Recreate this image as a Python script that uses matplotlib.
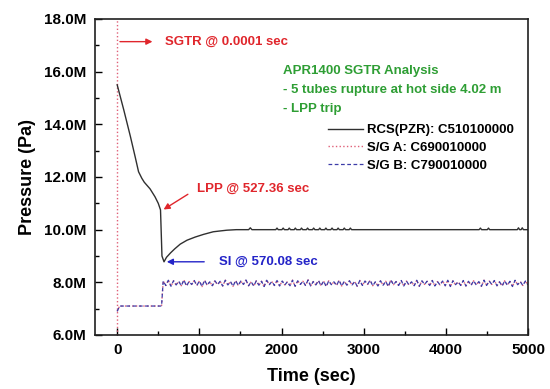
import numpy as np
import matplotlib
matplotlib.use("Agg")
import matplotlib.pyplot as plt
from matplotlib.ticker import FuncFormatter, MultipleLocator

plt.rcParams['font.family'] = ['Liberation Sans', 'DejaVu Sans']
plt.rcParams['font.weight'] = 'bold'

# RCS (PZR) pressure, MPa
rcs_t = [0, 80, 160, 220, 260, 300, 330, 400, 460, 500, 527.36, 545, 570.08,
         600, 650, 700, 767, 850, 950, 1050, 1169, 1250, 1336, 1450, 1600,
         1620, 1640, 1930, 1945, 1960, 2005, 2020, 2035, 2080, 2094, 2110,
         2155, 2168, 2183, 2230, 2243, 2258, 2303, 2317, 2332, 2377, 2391,
         2406, 2452, 2466, 2481, 2526, 2540, 2555, 2600, 2615, 2630, 2675,
         2689, 2704, 2750, 2764, 2779, 2824, 2838, 2853, 4405, 4421, 4435,
         4505, 4519, 4533, 4870, 4884, 4898, 4916, 4930, 4944, 5000]
rcs_p = [15.5, 14.55, 13.55, 12.75, 12.2, 11.95, 11.8, 11.55, 11.25, 11.0,
         10.75, 9.0, 8.78,
         8.95, 9.12, 9.27, 9.45, 9.6, 9.72, 9.82, 9.92, 9.95, 9.98, 10.0, 10.0,
         10.07, 10.0, 10.0, 10.06, 10.0, 10.0, 10.06, 10.0, 10.0, 10.06, 10.0,
         10.0, 10.06, 10.0, 10.0, 10.06, 10.0, 10.0, 10.06, 10.0, 10.0, 10.06,
         10.0, 10.0, 10.06, 10.0, 10.0, 10.06, 10.0, 10.0, 10.06, 10.0, 10.0,
         10.06, 10.0, 10.0, 10.06, 10.0, 10.0, 10.06, 10.0, 10.0, 10.06, 10.0,
         10.0, 10.06, 10.0, 10.0, 10.07, 10.0, 10.0, 10.07, 10.0, 10.0]

# S/G secondary pressure, MPa: start-up part, then the oscillating band after SI
sg_start_t = [0, 30, 540]
sg_start_p = [6.9, 7.1, 7.1]
sg_band_p = [
    8.05, 7.88, 8.08, 7.85, 8.06, 7.90, 8.04, 7.87, 8.09, 7.86, 8.03, 7.92,
    8.07, 7.88, 8.05, 7.84, 8.08, 7.89, 8.02, 7.87, 8.06, 7.91, 8.04, 7.86,
    8.08, 7.90, 8.03, 7.85, 8.07, 7.88, 8.05, 7.92, 8.09, 7.87, 8.02, 7.86,
    8.06, 7.89, 8.04, 7.84, 8.08, 7.91, 8.03, 7.88, 8.07, 7.86, 8.05, 7.90,
    8.02, 7.87, 8.08, 7.85, 8.06, 7.92, 8.04, 7.88, 8.09, 7.86, 8.03, 7.90,
    8.07, 7.87, 8.05, 7.84, 8.06, 7.91, 8.02, 7.88, 8.08, 7.86, 8.04, 7.89,
    8.06, 7.90, 8.03, 7.85, 8.07, 7.88, 8.05, 7.92, 8.08, 7.87, 8.02, 7.86,
    8.06, 7.89, 8.04, 7.84, 8.09, 7.91, 8.03, 7.88, 8.07, 7.86, 8.05, 7.90,
    8.02, 7.87, 8.08, 7.85, 8.06, 7.92, 8.04, 7.88, 8.07, 7.86, 8.03, 7.90,
    8.05, 7.87, 8.08, 7.84, 8.06, 7.91, 8.02, 7.88, 8.07, 7.86, 8.04, 7.89,
    8.06, 7.90, 8.03, 7.85, 8.08, 7.88, 8.05, 7.92, 8.07, 7.87, 8.02, 7.86,
    8.06, 7.89, 8.04, 7.84, 8.08, 7.91, 8.03, 7.88, 8.05, 7.90]
sg_band_start, sg_band_end = 560, 5000

xticks = [0, 1000, 2000, 3000, 4000, 5000]
yticks = [6, 8, 10, 12, 14, 16, 18]

legend_labels = ['RCS(PZR): C510100000', 'S/G A: C690010000', 'S/G B: C790010000']
info_lines = ['APR1400 SGTR Analysis', '- 5 tubes rupture at hot side 4.02 m', '- LPP trip']

red = '#e0262c'
blue = '#2424c8'
green = '#2e9e34'

band_t = np.linspace(sg_band_start, sg_band_end, len(sg_band_p))
sg_t = np.concatenate([sg_start_t, band_t])
sg_p = np.concatenate([sg_start_p, sg_band_p])

fig = plt.figure(figsize=(5.5, 3.89), dpi=100)
ax = fig.add_axes([95 / 550, 54 / 389, 433 / 550, 316 / 389])

ax.axvline(0.0001, color='#e06078', ls=':', lw=1.0)
ax.plot(rcs_t, np.array(rcs_p) * 1e6, color='#303030', lw=1.0, label=legend_labels[0])
ax.plot(sg_t, sg_p * 1e6, color='#e06078', ls=':', lw=1.0, label=legend_labels[1])
ax.plot(sg_t, sg_p * 1e6, color='#3c3ca8', ls=(0, (3, 2)), lw=0.9, label=legend_labels[2])

ax.set_xlim(-270, 5000)
ax.set_ylim(6e6, 18e6)
ax.set_xticks(xticks)
ax.set_yticks(np.array(yticks) * 1e6)
ax.xaxis.set_minor_locator(MultipleLocator(500))
ax.yaxis.set_minor_locator(MultipleLocator(1e6))
ax.yaxis.set_major_formatter(FuncFormatter(lambda v, p: '%.1fM' % (v / 1e6)))
ax.tick_params(which='both', direction='in', top=False, right=False, width=1.0)
ax.tick_params(which='major', length=5, labelsize=11, pad=6)
ax.tick_params(which='minor', length=3)
for lab in ax.get_xticklabels() + ax.get_yticklabels():
    lab.set_fontweight('bold')
for sp in ax.spines.values():
    sp.set_linewidth(1.2)
    sp.set_color('#202020')

ax.set_xlabel('Time (sec)', fontsize=13, fontweight='bold', labelpad=8)
ax.set_ylabel('Pressure (Pa)', fontsize=13, fontweight='bold', labelpad=6)

# event annotations
ax.annotate('', xy=(463, 17.14e6), xytext=(0, 17.14e6),
            arrowprops=dict(arrowstyle='-|>', color=red, lw=1.0, mutation_scale=9))
ax.text(585, 17.14e6, 'SGTR @ 0.0001 sec', color=red, fontsize=9.5,
        fontweight='bold', va='center', ha='left')

ax.annotate('', xy=(536, 10.71e6), xytext=(889, 11.4e6),
            arrowprops=dict(arrowstyle='-|>', color=red, lw=1.0, mutation_scale=9))
ax.text(971, 11.54e6, 'LPP @ 527.36 sec', color=red, fontsize=9.5,
        fontweight='bold', va='center', ha='left')

ax.annotate('', xy=(570, 8.78e6), xytext=(1093, 8.78e6),
            arrowprops=dict(arrowstyle='-|>', color=blue, lw=1.0, mutation_scale=9))
ax.text(1239, 8.78e6, 'SI @ 570.08 sec', color=blue, fontsize=9.5,
        fontweight='bold', va='center', ha='left')

for i, line in enumerate(info_lines):
    ax.text(2022, (16.04 - 0.73 * i) * 1e6, line, color=green, fontsize=9.5,
            fontweight='bold', va='center', ha='left')

ax.legend(loc='upper left', bbox_to_anchor=(233 / 433, 0.668), frameon=False,
          borderpad=0, borderaxespad=0, handlelength=2.65, handletextpad=0.3,
          labelspacing=0.42, prop={'size': 9.5, 'weight': 'bold'})

fig.savefig('out.png', dpi=100)
